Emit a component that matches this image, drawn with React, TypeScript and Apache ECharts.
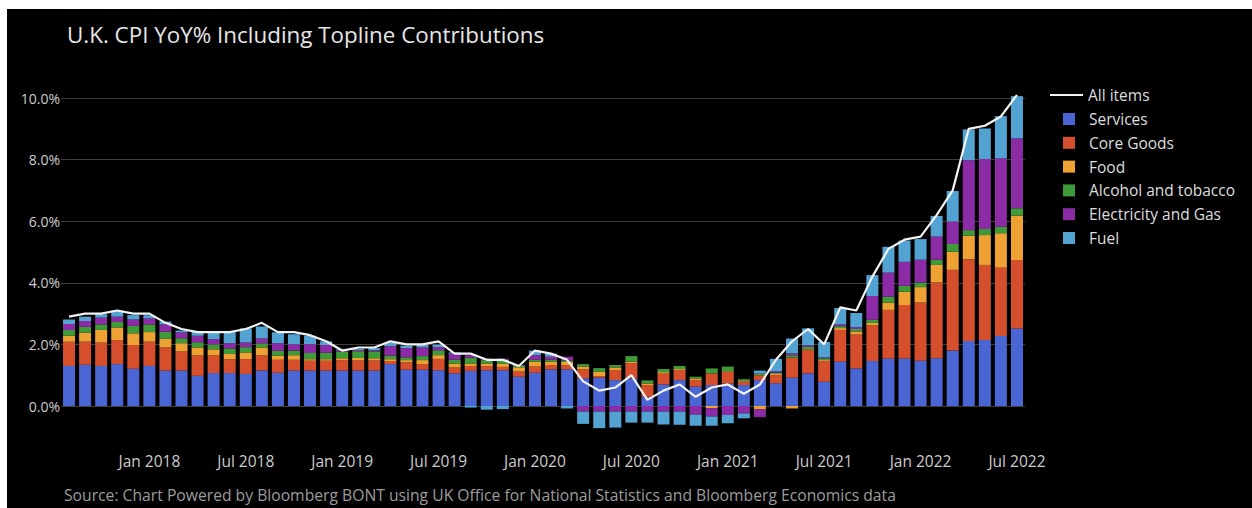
import React, { useEffect, useRef } from "react";
import * as echarts from "echarts";

const months = [
  "Aug 2017", "Sep 2017", "Oct 2017", "Nov 2017", "Dec 2017",
  "Jan 2018", "Feb 2018", "Mar 2018", "Apr 2018", "May 2018", "Jun 2018", "Jul 2018", "Aug 2018", "Sep 2018", "Oct 2018", "Nov 2018", "Dec 2018",
  "Jan 2019", "Feb 2019", "Mar 2019", "Apr 2019", "May 2019", "Jun 2019", "Jul 2019", "Aug 2019", "Sep 2019", "Oct 2019", "Nov 2019", "Dec 2019",
  "Jan 2020", "Feb 2020", "Mar 2020", "Apr 2020", "May 2020", "Jun 2020", "Jul 2020", "Aug 2020", "Sep 2020", "Oct 2020", "Nov 2020", "Dec 2020",
  "Jan 2021", "Feb 2021", "Mar 2021", "Apr 2021", "May 2021", "Jun 2021", "Jul 2021", "Aug 2021", "Sep 2021", "Oct 2021", "Nov 2021", "Dec 2021",
  "Jan 2022", "Feb 2022", "Mar 2022", "Apr 2022", "May 2022", "Jun 2022", "Jul 2022",
];

const services = [
  1.30, 1.34, 1.30, 1.36, 1.21,
  1.30, 1.15, 1.15, 0.98, 1.07, 1.07, 1.04, 1.15, 1.08, 1.15, 1.15, 1.15,
  1.15, 1.15, 1.15, 1.36, 1.18, 1.18, 1.16, 1.06, 1.14, 1.16, 1.16, 0.95,
  1.08, 1.19, 1.19, 0.90, 0.92, 0.84, 0.90, 0.30, 0.70, 0.84, 0.63, 0.68,
  0.73, 0.68, 0.84, 0.74, 0.92, 1.06, 0.79, 1.44, 1.22, 1.46, 1.54, 1.54,
  1.47, 1.55, 1.80, 2.11, 2.14, 2.27, 2.52,
];
const coreGoods = [
  0.79, 0.75, 0.76, 0.78, 0.77,
  0.79, 0.75, 0.62, 0.67, 0.58, 0.45, 0.48, 0.50, 0.42, 0.35, 0.32, 0.32,
  0.34, 0.33, 0.33, 0.10, 0.24, 0.18, 0.37, 0.19, 0.16, 0.13, 0.11, 0.17,
  0.20, 0.14, 0.13, 0.29, 0.05, 0.33, 0.49, 0.38, 0.35, 0.33, 0.21, 0.38,
  0.38, 0.11, 0.16, 0.26, 0.65, 0.75, 0.67, 1.03, 1.10, 1.16, 1.58, 1.74,
  1.89, 2.46, 2.62, 2.65, 2.44, 2.22, 2.22,
];
const food = [
  0.19, 0.29, 0.41, 0.41, 0.38,
  0.31, 0.28, 0.27, 0.25, 0.19, 0.17, 0.22, 0.25, 0.13, 0.15, 0.05, 0.05,
  0.06, 0.08, 0.07, 0.06, 0.07, 0.13, 0.12, 0.13, 0.08, 0.09, 0.10, 0.14,
  0.16, 0.11, 0.11, 0.09, 0.14, 0.08, 0.05, 0.05, 0.05, 0.03, 0.05, -0.07,
  0.02, 0.02, -0.10, 0.04, -0.08, 0.03, 0.03, 0.06, 0.10, 0.08, 0.24, 0.43,
  0.50, 0.57, 0.59, 0.77, 0.97, 1.12, 1.44,
];
const alcoholTobacco = [
  0.19, 0.19, 0.18, 0.18, 0.24,
  0.25, 0.23, 0.16, 0.17, 0.16, 0.18, 0.17, 0.14, 0.16, 0.15, 0.20, 0.21,
  0.22, 0.22, 0.22, 0.12, 0.09, 0.13, 0.16, 0.13, 0.19, 0.11, 0.14, 0.04,
  0.06, 0.06, 0.05, 0.08, 0.12, 0.08, 0.18, 0.10, 0.10, 0.10, 0.06, 0.16,
  0.15, 0.06, 0.05, 0.04, 0.08, 0.08, 0.06, 0.06, 0.08, 0.10, 0.19, 0.19,
  0.15, 0.17, 0.25, 0.18, 0.20, 0.21, 0.24,
];
const electricityGas = [
  0.19, 0.19, 0.22, 0.17, 0.21,
  0.19, 0.24, 0.19, 0.21, 0.17, 0.17, 0.15, 0.15, 0.25, 0.21, 0.29, 0.25,
  0.05, 0.04, 0.04, 0.30, 0.30, 0.28, 0.10, 0.19, 0.08, 0.05, 0.03, 0.00,
  0.15, 0.10, 0.12, -0.18, -0.18, -0.18, -0.18, -0.18, -0.18, -0.18, -0.28, -0.27,
  -0.29, -0.24, -0.26, 0.05, 0.06, 0.05, 0.03, 0.06, 0.06, 0.77, 0.78, 0.78,
  0.74, 0.75, 0.73, 2.27, 2.27, 2.22, 2.27,
];
const fuel = [
  0.15, 0.14, 0.11, 0.20, 0.14,
  0.11, 0.09, 0.06, 0.14, 0.25, 0.38, 0.46, 0.39, 0.35, 0.32, 0.27, 0.12,
  0.02, 0.04, 0.07, 0.12, 0.08, 0.08, 0.08, 0.04, -0.05, -0.12, -0.10, 0.02,
  0.15, 0.10, -0.08, -0.40, -0.54, -0.52, -0.36, -0.36, -0.42, -0.43, -0.36, -0.30,
  -0.27, -0.16, 0.10, 0.40, 0.48, 0.55, 0.50, 0.53, 0.46, 0.68, 0.84, 0.69,
  0.67, 0.67, 0.99, 1.00, 0.99, 1.37, 1.37,
];
const allItems = [
  2.9, 3.0, 3.0, 3.1, 3.0,
  3.0, 2.7, 2.5, 2.4, 2.4, 2.4, 2.5, 2.7, 2.4, 2.4, 2.3, 2.1,
  1.8, 1.9, 1.9, 2.1, 2.0, 2.0, 2.1, 1.7, 1.7, 1.5, 1.5, 1.3,
  1.8, 1.7, 1.5, 0.8, 0.5, 0.6, 1.0, 0.2, 0.5, 0.7, 0.3, 0.6,
  0.7, 0.4, 0.7, 1.5, 2.1, 2.5, 2.0, 3.2, 3.1, 4.2, 5.1, 5.4,
  5.5, 6.2, 7.0, 9.0, 9.1, 9.4, 10.1,
];

const barNames = ["Services", "Core Goods", "Food", "Alcohol and tobacco", "Electricity and Gas", "Fuel"];
const barColors = ["#4a66d4", "#d64f2c", "#eea234", "#3f9a3a", "#8b2ca6", "#52a3d2"];
const barValues = [services, coreGoods, food, alcoholTobacco, electricityGas, fuel];

const FONT = '"Open Sans", "Noto Sans", sans-serif';

export default function App() {
  const ref = useRef<HTMLDivElement>(null);
  useEffect(() => {
    if (!ref.current) return;
    const chart = echarts.init(ref.current, undefined, { renderer: "svg" });
    const gridColor = "#3d3d3d";
    const bars = barNames.map((name, i) => ({
      name,
      type: "bar",
      stack: "total",
      barWidth: 12,
      itemStyle: { color: barColors[i] },
      data: barValues[i],
      z: 2,
    }));
    chart.setOption({
      animation: false,
      backgroundColor: "#000000",
      title: {
        text: "U.K. CPI YoY% Including Topline Contributions",
        left: 55,
        top: 9,
        textStyle: { color: "#e6e6e6", fontSize: 22.4, fontWeight: "normal", fontFamily: FONT },
      },
      legend: [
        {
          data: [{ name: "All items", icon: "rect", itemStyle: { color: "#f2f2f2" } }],
          orient: "vertical",
          left: 1038,
          top: 72.5,
          itemWidth: 33,
          itemHeight: 2,
          textStyle: { color: "#dddddd", fontSize: 15.5, lineHeight: 17, fontFamily: FONT },
        },
        {
          data: barNames,
          orient: "vertical",
          left: 1051,
          top: 96.5,
          icon: "rect",
          itemWidth: 12,
          itemHeight: 12,
          itemGap: 6.8,
          textStyle: { color: "#dddddd", fontSize: 15.5, lineHeight: 17, fontFamily: FONT, padding: [0, 0, 0, 9] },
        },
      ],
      grid: { left: 54, right: 227, top: 27.4, bottom: 40.4, containLabel: false },
      xAxis: {
        type: "category",
        data: months,
        axisLine: { show: false },
        axisTick: { show: false },
        axisLabel: {
          color: "#cccccc",
          fontSize: 15.5,
          fontFamily: FONT,
          margin: -14.5,
          interval: (index: number, value: string) => value.startsWith("Jan") || value.startsWith("Jul"),
        },
        splitLine: { show: false },
      },
      yAxis: {
        type: "value",
        min: -2,
        max: 12,
        interval: 2,
        axisLine: { show: false },
        axisTick: { show: false },
        axisLabel: {
          color: "#cccccc",
          fontSize: 14,
          fontFamily: FONT,
          margin: 1,
          showMinLabel: false,
          showMaxLabel: false,
          formatter: (v: number) => v.toFixed(1) + "%",
        },
        splitLine: {
          lineStyle: {
            width: 1,
            color: ["rgba(0,0,0,0)", gridColor, gridColor, gridColor, gridColor, gridColor, gridColor, "rgba(0,0,0,0)"],
          },
        },
      },
      series: [
        ...bars,
        {
          name: "All items",
          type: "line",
          data: allItems,
          symbol: "none",
          z: 5,
          lineStyle: { color: "#f2f2f2", width: 2.2 },
          itemStyle: { color: "#f2f2f2" },
        },
      ],
      graphic: [
        {
          type: "text",
          left: 57,
          top: 478,
          style: {
            text: "Source: Chart Powered by Bloomberg BONT using UK Office for National Statistics and Bloomberg Economics data",
            fill: "#9c9c9c",
            font: `15.7px ${FONT}`,
          },
        },
      ],
    });
    return () => chart.dispose();
  }, []);
  return (
    <div style={{ position: "fixed", left: 0, top: 0, width: 1252, height: 508, background: "#ffffff" }}>
      <div ref={ref} style={{ position: "absolute", left: 7, top: 9, width: 1245, height: 499 }} />
    </div>
  );
}
